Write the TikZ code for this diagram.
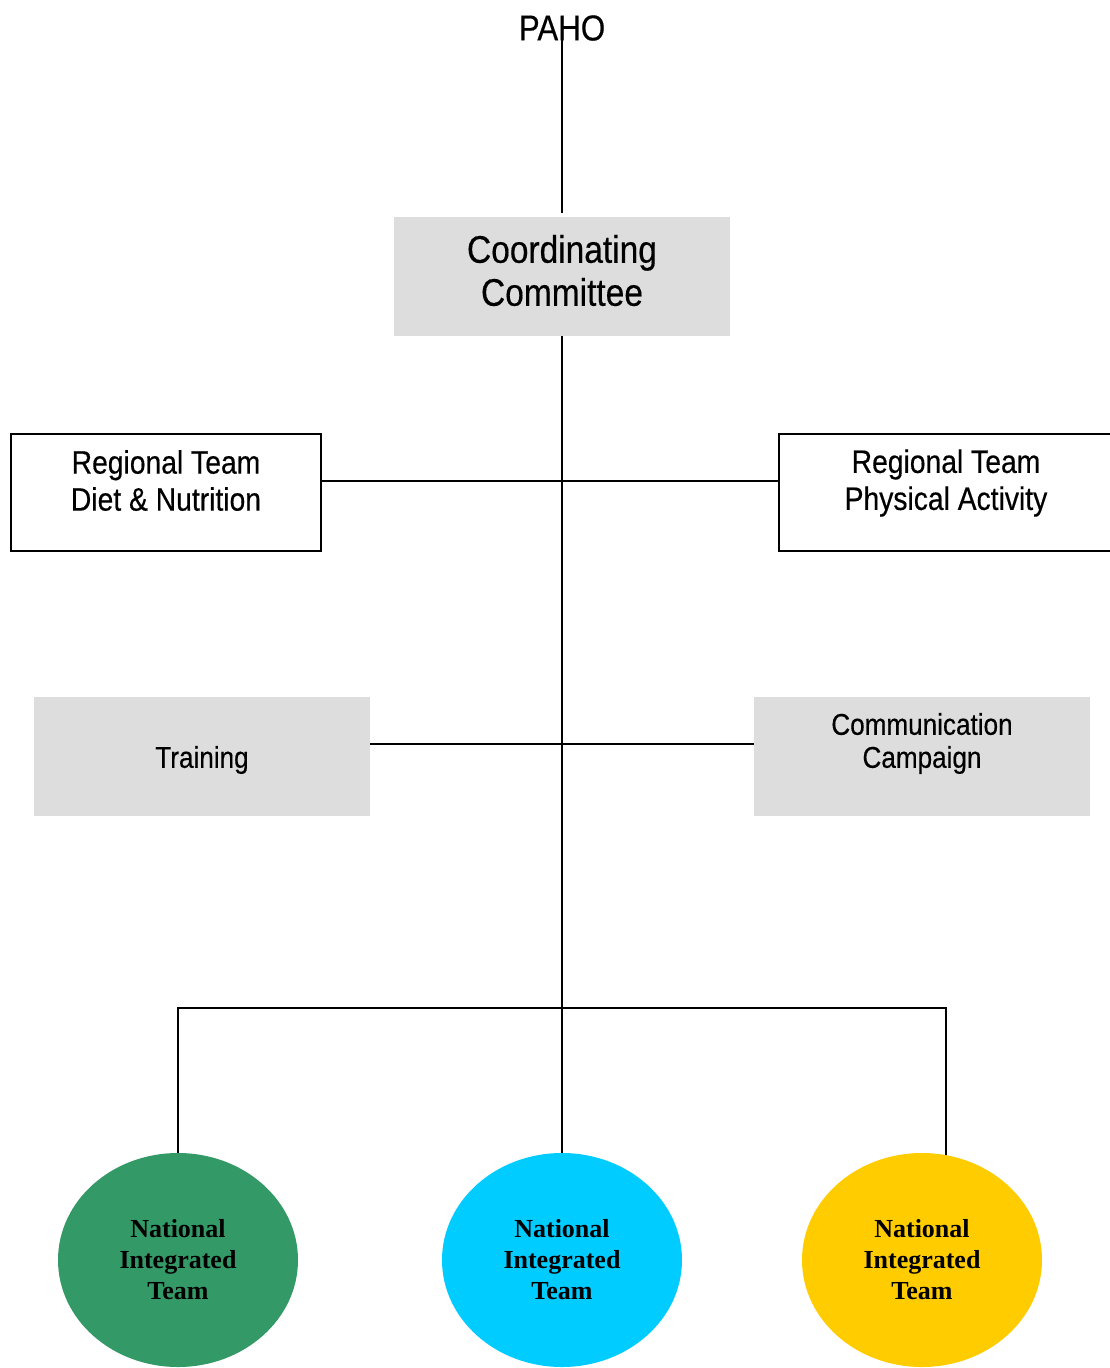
\documentclass[tikz,border=0pt]{standalone}
\usepackage{fontspec}
\setmainfont{Liberation Sans}[FakeStretch=0.87,FakeBold=0.4]
\newfontfamily\nitfont{Liberation Serif}
\usetikzlibrary{shapes.geometric}
\pgfdeclarelayer{bg}
\pgfsetlayers{bg,main}
\definecolor{boxgray}{HTML}{DDDDDD}
\definecolor{nitgreen}{HTML}{339966}
\definecolor{nitblue}{HTML}{00CCFF}
\definecolor{nityellow}{HTML}{FFCC00}
\begin{document}
\begin{tikzpicture}[x=1pt,y=-1pt,
  conn/.style={line width=2pt, draw=black},
  graybox/.style={rectangle, fill=boxgray, draw=none, minimum width=336pt, minimum height=119pt, inner sep=0pt, outer sep=0pt},
  openbox/.style={rectangle, draw=black, line width=2pt, fill=white, minimum height=117pt, inner sep=0pt, outer sep=0pt},
  nit/.style={ellipse, draw=none, minimum width=240pt, minimum height=214pt, inner sep=0pt, outer sep=0pt, align=center, font=\nitfont\bfseries\fontsize{26}{31}\selectfont},
  lbl/.style={align=center, inner sep=0pt}]
\useasboundingbox (0,0) rectangle (1109,1368);

\node[lbl, font=\fontsize{36}{40}\selectfont] (paho) at (562,28) {PAHO};

\node[graybox] (cc) at (562,276.5) {};
\node[lbl, font=\fontsize{38.5}{43}\selectfont] (cct) at (562,270.5) {Coordinating\\Committee};

\node[openbox, minimum width=310pt] (rdn) at (166,492.5) {};
\node[lbl, font=\fontsize{32.5}{37}\selectfont] (rdnt) at (166,480.5) {Regional Team\\Diet \& Nutrition};

\node[openbox, minimum width=334pt] (rpa) at (946,492.5) {};
\node[lbl, font=\fontsize{32.5}{37}\selectfont] (rpat) at (946,483) {Regional Team\\Physical Activity};

\node[graybox] (tr) at (202,756.5) {};
\node[lbl, font=\fontsize{30}{34}\selectfont] (trt) at (202,760) {Training};

\node[graybox] (cm) at (922,756.5) {};
\node[lbl, font=\fontsize{30}{33}\selectfont] (cmt) at (922,743.5) {Communication\\Campaign};

\node[nit, fill=nitgreen] (n1) at (178,1260) {National\\Integrated\\Team};
\node[nit, fill=nitblue] (n2) at (562,1260) {National\\Integrated\\Team};
\node[nit, fill=nityellow] (n3) at (922,1260) {National\\Integrated\\Team};

\begin{pgfonlayer}{bg}
\fill[white] (0,0) rectangle (1109,1368);
\coordinate (ptop) at (562,35);
\draw[conn] (ptop) -- ([yshift=4pt]cc.north);
\draw[conn] (cc.south) -- (n2.north);
\coordinate (j1) at (562,481);
\draw[conn] (j1 -| rdn.east) -- (j1 -| rpa.west);
\coordinate (j2) at (562,744);
\draw[conn] (j2 -| tr.east) -- (j2 -| cm.west);
\coordinate (j3) at (562,1008);
\coordinate (r3) at (946,1165);
\draw[conn] (n1.north) |- (j3) -| (r3);
\end{pgfonlayer}
\end{tikzpicture}
\end{document}
